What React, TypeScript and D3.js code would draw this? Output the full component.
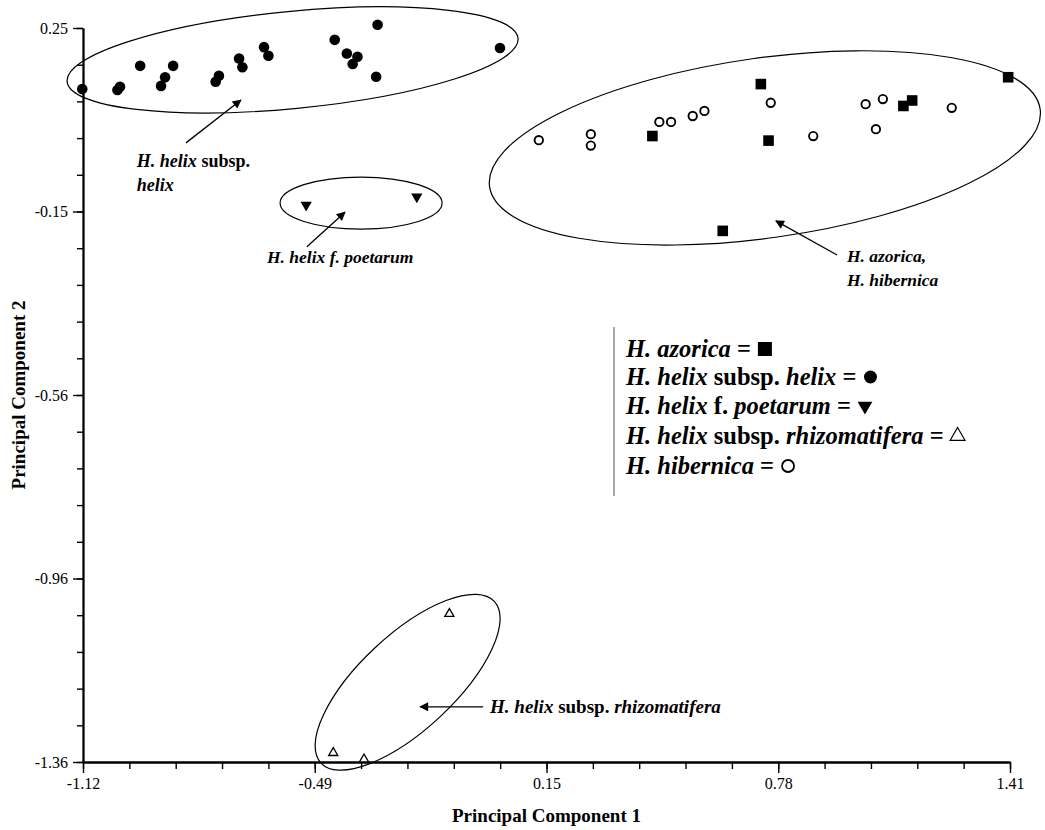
import * as d3 from 'd3';
import React, { useRef, useEffect } from 'react';

const width = 1045;
const height = 830;
const margin = { top: 28, left: 83, right: 35, bottom: 68 };
const font = "'Liberation Serif', 'Times New Roman', serif";

const xDomain: [number, number] = [-1.12, 1.41];
const yDomain: [number, number] = [-1.36, 0.25];
const xTickValues = [-1.12, -0.4875, 0.145, 0.7775, 1.41];
const xTickLabels = ['-1.12', '-0.49', '0.15', '0.78', '1.41'];
const yTickValues = [0.25, -0.1525, -0.555, -0.9575, -1.36];
const yTickLabels = ['0.25', '-0.15', '-0.56', '-0.96', '-1.36'];

// [PC1, PC2] per sample
const helix: [number, number][] = [
  [-1.122, 0.116], [-1.026, 0.114], [-1.019, 0.121], [-0.964, 0.167], [-0.907, 0.123],
  [-0.896, 0.142], [-0.874, 0.167], [-0.758, 0.132], [-0.749, 0.145], [-0.694, 0.183],
  [-0.685, 0.164], [-0.626, 0.208], [-0.614, 0.189], [-0.433, 0.224], [-0.4, 0.194],
  [-0.384, 0.171], [-0.371, 0.187], [-0.316, 0.257], [-0.32, 0.143], [0.018, 0.206],
];
const azorica: [number, number][] = [
  [0.434, 0.013], [0.73, 0.127], [0.751, 0.003], [0.626, -0.195],
  [1.119, 0.079], [1.143, 0.091], [1.405, 0.142],
];
const hibernica: [number, number][] = [
  [0.124, 0.004], [0.266, 0.017], [0.266, -0.008], [0.453, 0.044], [0.485, 0.044],
  [0.544, 0.057], [0.576, 0.068], [0.757, 0.086], [0.873, 0.013], [1.016, 0.083],
  [1.063, 0.094], [1.044, 0.028], [1.251, 0.075],
];
const poetarum: [number, number][] = [[-0.511, -0.138], [-0.209, -0.12]];
const rhizomatifera: [number, number][] = [[-0.12, -1.035], [-0.437, -1.34], [-0.353, -1.354]];

// cluster outlines: centre in data units, radii (px) and tilt (deg)
const clusters = [
  { cx: -0.548, cy: 0.18, rx: 226.5, ry: 48.6, angle: -5.5 },
  { cx: 0.741, cy: -0.013, rx: 278, ry: 90, angle: -8 },
  { cx: -0.361, cy: -0.134, rx: 81, ry: 26, angle: 0 },
  { cx: -0.234, cy: -1.185, rx: 118.5, ry: 47.4, angle: -43 },
];

type Seg = { t: string; i?: boolean };

const notes: { x: number; y: number; size: number; lines: Seg[][] }[] = [
  { x: -0.973, y: -0.055, size: 18, lines: [[{ t: 'H. helix', i: true }, { t: ' subsp.' }], [{ t: 'helix', i: true }]] },
  { x: -0.618, y: -0.265, size: 17.5, lines: [[{ t: 'H. helix f. poetarum', i: true }]] },
  { x: 0.965, y: -0.263, size: 17.5, lines: [[{ t: 'H. azorica,', i: true }], [{ t: 'H. hibernica', i: true }]] },
  { x: -0.009, y: -1.253, size: 19, lines: [[{ t: 'H. helix', i: true }, { t: ' subsp. ' }, { t: 'rhizomatifera', i: true }]] },
];

const arrows: [number, number, number, number][] = [
  [-0.839, -0.002, -0.689, 0.092],
  [-0.509, -0.23, -0.405, -0.154],
  [0.938, -0.248, 0.771, -0.173],
  [-0.028, -1.239, -0.2, -1.239],
];

const legendItems: { segs: Seg[]; sym: string }[] = [
  { segs: [{ t: 'H. azorica', i: true }, { t: ' =' }], sym: 'square' },
  { segs: [{ t: 'H. helix', i: true }, { t: ' subsp. ' }, { t: 'helix', i: true }, { t: ' =' }], sym: 'circle' },
  { segs: [{ t: 'H. helix', i: true }, { t: ' f. ' }, { t: 'poetarum', i: true }, { t: ' =' }], sym: 'tri' },
  { segs: [{ t: 'H. helix', i: true }, { t: ' subsp. ' }, { t: 'rhizomatifera', i: true }, { t: ' =' }], sym: 'otri' },
  { segs: [{ t: 'H. hibernica', i: true }, { t: ' =' }], sym: 'ocircle' },
];

const App = () => {
  const svgRef = useRef<SVGSVGElement>(null);

  useEffect(() => {
    const svg = d3.select(svgRef.current);
    svg.selectAll('*').remove();

    const x = d3.scaleLinear().domain(xDomain).range([margin.left, width - margin.right]);
    const y = d3.scaleLinear().domain(yDomain).range([height - margin.bottom, margin.top]);

    const defs = svg.append('defs');
    defs.append('marker')
      .attr('id', 'arr')
      .attr('viewBox', '0 0 10 10')
      .attr('refX', 9).attr('refY', 5)
      .attr('markerWidth', 12).attr('markerHeight', 9)
      .attr('markerUnits', 'userSpaceOnUse')
      .attr('orient', 'auto')
      .append('path').attr('d', 'M0,0L10,5L0,10Z').attr('fill', '#000');

    const minor = (d: [number, number]) => d3.range(21).map(i => d[0] + (i * (d[1] - d[0])) / 20);

    // x axis
    const gx = svg.append('g').attr('transform', `translate(0,${y(yDomain[0])})`);
    gx.append('g').call(d3.axisBottom(x).tickValues(minor(xDomain)).tickSize(7).tickSizeOuter(0).tickFormat(() => ''));
    gx.append('g').call(
      d3.axisBottom(x).tickValues(xTickValues).tickSize(11).tickSizeOuter(0).tickPadding(5)
        .tickFormat((_d, i) => xTickLabels[i])
    );
    // y axis
    const gy = svg.append('g').attr('transform', `translate(${x(xDomain[0])},0)`);
    gy.append('g').call(d3.axisLeft(y).tickValues(minor(yDomain)).tickSize(6).tickSizeOuter(0).tickFormat(() => ''));
    gy.append('g').call(
      d3.axisLeft(y).tickValues(yTickValues).tickSize(10).tickSizeOuter(0).tickPadding(5)
        .tickFormat((_d, i) => yTickLabels[i])
    );
    svg.selectAll('.domain').attr('stroke-width', 1.8);
    svg.selectAll('.tick line').attr('stroke-width', 1.4);
    svg.selectAll('.tick text').attr('font-family', font).attr('font-size', 16).attr('fill', '#000');

    svg.append('text')
      .attr('x', (x.range()[0] + x.range()[1]) / 2).attr('y', 822)
      .attr('text-anchor', 'middle').attr('font-family', font).attr('font-weight', 'bold').attr('font-size', 19)
      .text('Principal Component 1');
    svg.append('text')
      .attr('transform', `translate(25,${(y.range()[0] + y.range()[1]) / 2}) rotate(-90)`)
      .attr('text-anchor', 'middle').attr('font-family', font).attr('font-weight', 'bold').attr('font-size', 19)
      .text('Principal Component 2');

    // cluster outlines
    clusters.forEach(c => {
      const cx = x(c.cx), cy = y(c.cy);
      svg.append('ellipse')
        .attr('cx', cx).attr('cy', cy).attr('rx', c.rx).attr('ry', c.ry)
        .attr('transform', `rotate(${c.angle},${cx},${cy})`)
        .attr('fill', 'none').attr('stroke', '#000').attr('stroke-width', 1.2);
    });

    // points
    const pts = svg.append('g');
    pts.selectAll('.helix').data(helix).join('circle')
      .attr('cx', d => x(d[0])).attr('cy', d => y(d[1])).attr('r', 5.3).attr('fill', '#000');
    pts.selectAll('.azorica').data(azorica).join('rect')
      .attr('x', d => x(d[0]) - 5.3).attr('y', d => y(d[1]) - 5.3)
      .attr('width', 10.6).attr('height', 10.6).attr('fill', '#000');
    pts.selectAll('.hibernica').data(hibernica).join('circle')
      .attr('cx', d => x(d[0])).attr('cy', d => y(d[1])).attr('r', 4.2)
      .attr('fill', '#fff').attr('stroke', '#000').attr('stroke-width', 1.9);
    const triDown = d3.symbol().type(d3.symbolTriangle).size(55);
    pts.selectAll('.poet').data(poetarum).join('path')
      .attr('d', triDown).attr('fill', '#000')
      .attr('transform', d => `translate(${x(d[0])},${y(d[1])}) rotate(180)`);
    const triUp = d3.symbol().type(d3.symbolTriangle).size(36);
    pts.selectAll('.rhizo').data(rhizomatifera).join('path')
      .attr('d', triUp).attr('fill', '#fff').attr('stroke', '#000').attr('stroke-width', 1.3)
      .attr('transform', d => `translate(${x(d[0])},${y(d[1])})`);

    // arrows
    arrows.forEach(a => {
      svg.append('line')
        .attr('x1', x(a[0])).attr('y1', y(a[1])).attr('x2', x(a[2])).attr('y2', y(a[3]))
        .attr('stroke', '#000').attr('stroke-width', 1.3).attr('marker-end', 'url(#arr)');
    });

    const addSegs = (t: d3.Selection<SVGTextElement, unknown, null, undefined>, segs: Seg[]) => {
      segs.forEach(s => {
        t.append('tspan').attr('font-style', s.i ? 'italic' : 'normal').text(s.t);
      });
    };

    // annotations
    notes.forEach(n => {
      n.lines.forEach((line, li) => {
        const t = svg.append('text')
          .attr('x', x(n.x)).attr('y', y(n.y) + li * 24)
          .attr('font-family', font).attr('font-weight', 'bold').attr('font-size', n.size)
          .style('white-space', 'pre');
        addSegs(t, line);
      });
    });

    // legend
    const lg = svg.append('g');
    lg.append('line').attr('x1', 614).attr('x2', 614).attr('y1', 327).attr('y2', 496)
      .attr('stroke', '#555').attr('stroke-width', 1);
    const baselines = [357, 385, 414, 444, 474];
    legendItems.forEach((it, i) => {
      const t = lg.append('text')
        .attr('x', 626).attr('y', baselines[i])
        .attr('font-family', font).attr('font-weight', 'bold').attr('font-size', 24.5)
        .style('white-space', 'pre');
      addSegs(t, it.segs);
      const len = (t.node() as SVGTextElement).getComputedTextLength();
      const sx = 626 + len + 14;
      const sy = baselines[i] - 8;
      if (it.sym === 'square') {
        lg.append('rect').attr('x', sx - 7).attr('y', sy - 7).attr('width', 14).attr('height', 14).attr('fill', '#000');
      } else if (it.sym === 'circle') {
        lg.append('circle').attr('cx', sx).attr('cy', sy).attr('r', 6.5).attr('fill', '#000');
      } else if (it.sym === 'tri') {
        lg.append('path').attr('d', d3.symbol().type(d3.symbolTriangle).size(95)())
          .attr('transform', `translate(${sx},${sy}) rotate(180)`).attr('fill', '#000');
      } else if (it.sym === 'otri') {
        lg.append('path').attr('d', d3.symbol().type(d3.symbolTriangle).size(95)())
          .attr('transform', `translate(${sx},${sy})`).attr('fill', 'none').attr('stroke', '#000').attr('stroke-width', 1.2);
      } else {
        lg.append('circle').attr('cx', sx).attr('cy', sy).attr('r', 6).attr('fill', 'none')
          .attr('stroke', '#000').attr('stroke-width', 1.8);
      }
    });
  }, []);

  return (
    <svg
      ref={svgRef}
      width={width}
      height={height}
      style={{ position: 'absolute', left: 0, top: 0, background: '#fff' }}
    />
  );
};

export default App;
